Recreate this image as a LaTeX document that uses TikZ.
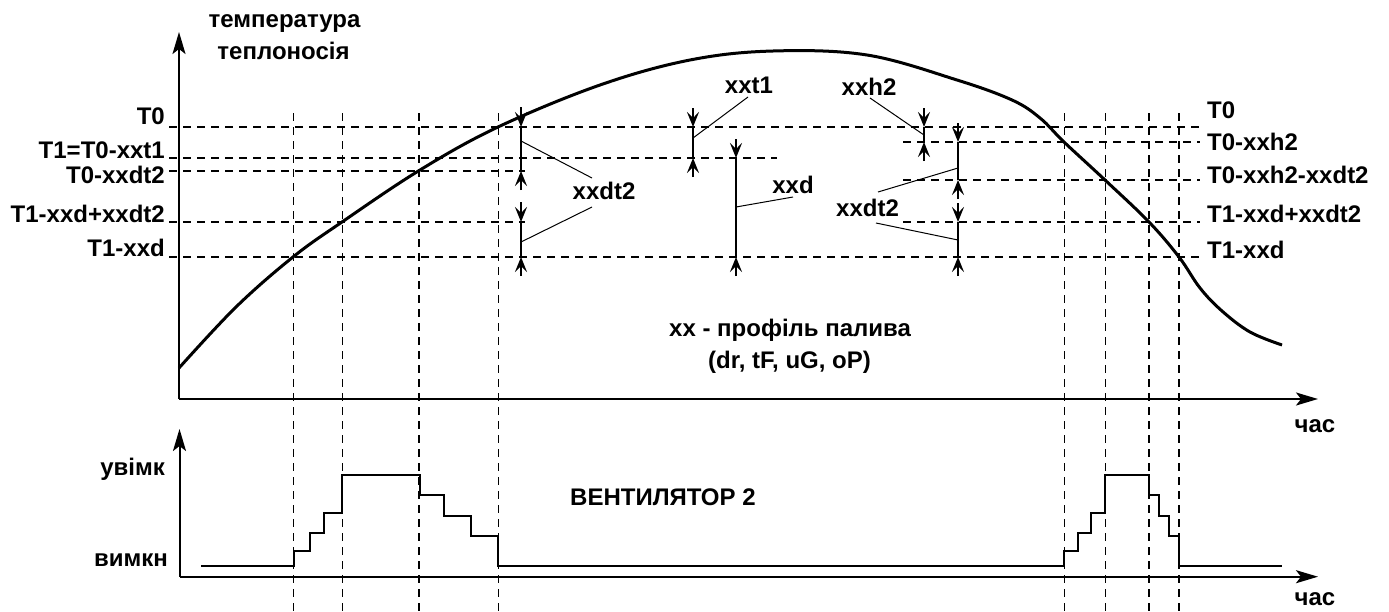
\documentclass[tikz,border=0pt]{standalone}
\usepackage{fontspec}
\setmainfont{Liberation Sans}
\usetikzlibrary{arrows.meta}
\begin{document}
\begin{tikzpicture}[x=1pt,y=-1pt,
 lbl/.style={font=\fontsize{24}{28}\selectfont\bfseries, inner sep=0pt},
 axis/.style={line width=2pt,-{Stealth[length=22pt,width=13pt,inset=5pt]}},
 gridline/.style={line width=1.2pt,dash pattern=on 8pt off 6pt},
 curve/.style={line width=3pt},
 fan/.style={line width=2pt},
 dimline/.style={line width=1.4pt},
 dimtip/.style={line width=1.6pt,-{Stealth[length=15pt,width=12pt,inset=6pt]}},
 leader/.style={line width=1pt}]
\useasboundingbox (0,0) rectangle (1389,611);

% vertical dashed lines
\foreach \x in {293.3,342.3,419,498.3,1064.3,1105.3,1149,1179}
  \draw[gridline] (\x,113) -- (\x,611);
% horizontal dashed lines
\draw[gridline] (169,127) -- (1200,127);
\draw[gridline] (169,158) -- (777,158);
\draw[gridline] (169,171) -- (525,171);
\draw[gridline] (169,222) -- (525,222);
\draw[gridline] (169,257) -- (1200,257);
\draw[gridline] (903,142) -- (1200,142);
\draw[gridline] (903,180) -- (1200,180);
\draw[gridline] (903,222) -- (1200,222);

% axes
\draw[axis] (179,399) -- (179,32);
\draw[axis] (179,399) -- (1318,399);
\draw[axis] (179.5,576.7) -- (179.5,429);
\draw[axis] (179.5,576.7) -- (1318,576.7);

% temperature curve
\draw[curve] plot[smooth,tension=0.6] coordinates {(179,368) (236,307) (293,257) (342,222) (420,170) (498,127) (600,85) (690,60) (773,51) (867,55) (957,80) (1012,100) (1040,118) (1064,142) (1105,180) (1149,222) (1179,257) (1200,288) (1222,311) (1250,332) (1282,345)};

% fan staircase
\draw[fan] (201,566) -- (294,566) -- (294,550.7) -- (310,550.7) -- (310,533.3) -- (324,533.3) -- (324,513.3) -- (342.3,513.3) -- (342.3,475) -- (420,475) -- (420,495.3) -- (444.3,495.3) -- (444.3,515.7) -- (470.7,515.7) -- (470.7,536) -- (498.3,536) -- (498.3,566) -- (1064,566) -- (1064,550.7) -- (1077.7,550.7) -- (1077.7,533.3) -- (1091,533.3) -- (1091,513.3) -- (1105,513.3) -- (1105,475) -- (1149,475) -- (1149,495.3) -- (1159,495.3) -- (1159,515.7) -- (1169.3,515.7) -- (1169.3,536) -- (1179,536) -- (1179,566) -- (1282,566);

% dimension markers
% left xxdt2 (upper)
\draw[dimtip] (521,107) -- (521,127);
\draw[dimline] (521,127) -- (521,171);
\draw[dimtip] (521,190) -- (521,171);
% left xxdt2 (lower)
\draw[dimtip] (521,202) -- (521,222);
\draw[dimline] (521,222) -- (521,257);
\draw[dimtip] (521,276) -- (521,257);
% xxt1
\draw[dimtip] (693,108) -- (693,127);
\draw[dimline] (693,127) -- (693,158);
\draw[dimtip] (693,177) -- (693,158);
% xxd
\draw[dimtip] (736,139) -- (736,158);
\draw[dimline] (736,158) -- (736,257);
\draw[dimtip] (736,276) -- (736,257);
% xxh2
\draw[dimtip] (924,108) -- (924,127);
\draw[dimline] (924,127) -- (924,142);
\draw[dimtip] (924,161) -- (924,142);
% right xxdt2
\draw[dimtip] (958,123) -- (958,142);
\draw[dimline] (958,142) -- (958,180);
\draw[dimtip] (958,199) -- (958,180);
\draw[dimtip] (958,203) -- (958,222);
\draw[dimline] (958,222) -- (958,257);
\draw[dimtip] (958,276) -- (958,257);

% labels
\node[lbl,anchor=base] (ty1) at (284.5,27) {температура};
\node[lbl,anchor=base] (ty2) at (283.5,59) {теплоносія};

\node[lbl,anchor=base east] (l0) at (165,124) {T0};
\node[lbl,anchor=base east] (l1) at (165,158) {T1=T0-xxt1};
\node[lbl,anchor=base east] (l2) at (165,183) {T0-xxdt2};
\node[lbl,anchor=base east] (l3) at (165,222.7) {T1-xxd+xxdt2};
\node[lbl,anchor=base east] (l4) at (165,256.7) {T1-xxd};

\node[lbl,anchor=base west] (r0) at (1207,118.3) {T0};
\node[lbl,anchor=base west] (r1) at (1207,150) {T0-xxh2};
\node[lbl,anchor=base west] (r2) at (1207,183) {T0-xxh2-xxdt2};
\node[lbl,anchor=base west] (r3) at (1207,222.7) {T1-xxd+xxdt2};
\node[lbl,anchor=base west] (r4) at (1207,258) {T1-xxd};

\node[lbl,anchor=base] (dtl) at (604,199.3) {xxdt2};
\node[lbl,anchor=base] (t1) at (749,93) {xxt1};
\node[lbl,anchor=base] (dd) at (793,193) {xxd};
\node[lbl,anchor=base] (h2) at (869,95) {xxh2};
\node[lbl,anchor=base] (dtr) at (867.5,216.7) {xxdt2};

\node[lbl,anchor=base west] (prof) at (669,336.7) {xx - профіль палива};
\node[lbl,anchor=base west] (prof2) at (708,368.3) {(dr, tF, uG, oP)};

\node[lbl,anchor=base] (t1x) at (1315,432) {час};
\node[lbl,anchor=base] (t2x) at (1315,605) {час};

\node[lbl,anchor=base east] (on) at (165,475) {увімк};
\node[lbl,anchor=base east] (off) at (168,566.7) {вимкн};
\node[lbl,anchor=base west] (fan2) at (570,505) {ВЕНТИЛЯТОР 2};

% leader lines
\coordinate (a1) at (521,141);
\coordinate (a2) at (521,242);
\coordinate (a3) at (693,138);
\coordinate (a4) at (736,207);
\coordinate (a5) at (924,135);
\coordinate (a6) at (958,168);
\coordinate (a7) at (958,240);
\draw[leader] (a1) -- (592,178);
\draw[leader] (a2) -- (592,207);
\draw[leader] (a3) -- (748,97);
\draw[leader] (a4) -- (793,197);
\draw[leader] (a5) -- (870,98);
\draw[leader] (a6) -- (878,192);
\draw[leader] (a7) -- (876,223);
\end{tikzpicture}
\end{document}
